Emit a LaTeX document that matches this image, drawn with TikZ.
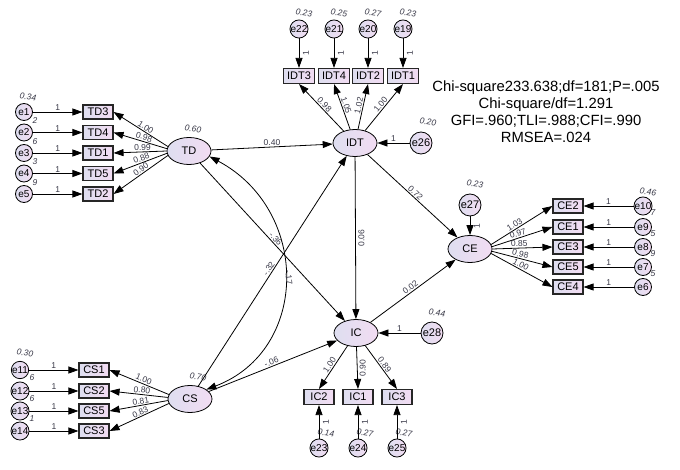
\documentclass[tikz,border=0pt]{standalone}
\usepackage{fontspec}
\setmainfont{Liberation Sans}
\usetikzlibrary{arrows.meta,shapes.geometric}
\definecolor{fillA}{RGB}{222,222,240}
\definecolor{fillB}{RGB}{242,220,242}
\definecolor{lblc}{RGB}{55,55,70}
\begin{document}
\begin{tikzpicture}[x=1pt,y=-1pt,
 lat/.style={ellipse, draw=black, line width=0.8pt, left color=fillA, right color=fillB, minimum width=44pt, minimum height=27pt, inner sep=0pt, font=\fontsize{11}{11}\selectfont},
 obs/.style={rectangle, draw=black!85, line width=1.1pt, left color=fillA, right color=fillB, minimum width=30pt, minimum height=14pt, inner sep=0pt, font=\fontsize{11}{11}\selectfont},
 err/.style={circle, draw=black, line width=0.8pt, left color=fillA, right color=fillB, minimum size=17pt, inner sep=0pt, font=\fontsize{10}{10}\selectfont},
 errb/.style={err, minimum size=22pt, font=\fontsize{11}{11}\selectfont},
 arr/.style={line width=0.8pt, -{Triangle[length=10pt,width=7pt]}},
 dbl/.style={line width=0.8pt, {Triangle[length=10pt,width=7pt]}-{Triangle[length=10pt,width=7pt]}},
 lbl/.style={font=\fontsize{8.5}{8.5}\selectfont, text=lblc, inner sep=1pt},
 varlbl/.style={lbl, font=\fontsize{8.5}{8.5}\selectfont\itshape, rotate=-8},
 fraglbl/.style={lbl, font=\fontsize{8.5}{8.5}\selectfont\itshape},
 fittext/.style={font=\fontsize{14.8}{17}\selectfont, align=center, inner sep=0pt}
]
\useasboundingbox (0,0) rectangle (680,470);

% ---------- latent variables
\node[lat] (TD) at (189,151) {TD};
\node[lat] (IDT) at (355,143) {IDT};
\node[lat] (IC) at (356,333) {IC};
\node[lat] (CE) at (470,249) {CE};
\node[lat] (CS) at (190,399) {CS};

% ---------- observed variables
\foreach \n/\y in {TD3/112,TD4/132.5,TD1/153,TD5/173.5,TD2/194}
  \node[obs] (\n) at (98,\y) {\n};
\foreach \n/\y in {CS1/370,CS2/391,CS5/411,CS3/431}
  \node[obs] (\n) at (94,\y) {\n};
\foreach \n/\y in {CE2/206,CE1/227,CE3/247,CE5/267,CE4/287}
  \node[obs] (\n) at (568,\y) {\n};
\foreach \n/\x in {IDT3/299,IDT4/334,IDT2/368,IDT1/403}
  \node[obs, minimum width=31pt, minimum height=15pt] (\n) at (\x,76) {\n};
\foreach \n/\x in {IC2/319,IC1/358,IC3/397}
  \node[obs, minimum height=15pt] (\n) at (\x,397) {\n};

% ---------- variance labels (drawn before the error circles)
\node[varlbl] (v1) at (28,97) {0.34};
\node[fraglbl] (f2) at (35,121) {2};
\node[fraglbl] (f3) at (35,141.5) {6};
\node[fraglbl] (f4) at (35,162) {3};
\node[fraglbl] (f5) at (35,182.5) {9};
\node[varlbl] (v11) at (25,353) {0.30};
\node[fraglbl] (f12) at (32,378) {6};
\node[fraglbl] (f13) at (32,399) {6};
\node[fraglbl] (f14) at (32,419) {1};
\node[varlbl] (v10) at (648,192) {0.46};
\node[fraglbl] (f9) at (653,213) {7};
\node[fraglbl] (f8) at (653,234) {5};
\node[fraglbl] (f7) at (653,254) {9};
\node[fraglbl] (f6) at (653,274) {5};
\node[varlbl] (v22) at (304,13) {0.23};
\node[varlbl] (v21) at (339,13) {0.25};
\node[varlbl] (v20) at (373,13) {0.27};
\node[varlbl] (v19) at (408,13) {0.23};
\node[varlbl] (v23) at (326,433) {0.14};
\node[varlbl] (v24) at (365,433) {0.27};
\node[varlbl] (v25) at (404,433) {0.27};
\node[varlbl] (v26) at (428,122) {0.20};
\node[varlbl] (v27) at (475,184) {0.23};
\node[varlbl] (v28) at (437,313) {0.44};
\node[varlbl] (vTD) at (193,129) {0.60};
\node[varlbl] (vCS) at (198,377) {0.70};

% ---------- error circles
\foreach \i/\y in {1/112,2/132.5,3/153,4/173.5,5/194}
  \node[err] (e\i) at (24,\y) {e\i};
\foreach \i/\y in {11/370,12/391,13/411,14/431}
  \node[err] (e\i) at (20,\y) {e\i};
\foreach \i/\y in {10/206,9/227,8/247,7/267,6/287}
  \node[err] (e\i) at (643,\y) {e\i};
\foreach \i/\x in {22/299,21/334,20/368,19/403}
  \node[err] (e\i) at (\x,29) {e\i};
\foreach \i/\x in {23/319,24/358,25/397}
  \node[err] (e\i) at (\x,448) {e\i};
\node[errb] (e26) at (421,143) {e26};
\node[errb] (e27) at (470,205) {e27};
\node[errb] (e28) at (432,333) {e28};

% ---------- error paths
\foreach \i/\n in {1/TD3,2/TD4,3/TD1,4/TD5,5/TD2,11/CS1,12/CS2,13/CS5,14/CS3,10/CE2,9/CE1,8/CE3,7/CE5,6/CE4}
  \draw[arr] (e\i) -- node[lbl,above]{1} (\n);
\foreach \i/\n in {22/IDT3,21/IDT4,20/IDT2,19/IDT1,23/IC2,24/IC1,25/IC3}
  \draw[arr] (e\i) -- node[lbl,pos=0.5,rotate=90,anchor=north,inner ysep=3.5pt]{1} (\n);
\draw[arr] (e27) -- node[lbl,pos=0.5,rotate=90,anchor=north,inner ysep=3.5pt]{1} (CE);
\draw[arr] (e26) -- node[lbl,above]{1} (IDT);
\draw[arr] (e28) -- node[lbl,above]{1} (IC);

% ---------- loadings
\draw[arr] (TD.168) -- node[lbl,sloped,above,pos=0.45]{1.00} (TD3.east);
\draw[arr] (TD.174) -- node[lbl,sloped,above,pos=0.45]{0.98} (TD4.east);
\draw[arr] (TD.180) -- node[lbl,sloped,above,pos=0.45]{0.99} (TD1.east);
\draw[arr] (TD.186) -- node[lbl,sloped,above,pos=0.45]{0.88} (TD5.east);
\draw[arr] (TD.192) -- node[lbl,sloped,above,pos=0.45]{0.90} (TD2.east);

\draw[arr] (CS.168) -- node[lbl,sloped,above,pos=0.45]{1.00} (CS1.east);
\draw[arr] (CS.176) -- node[lbl,sloped,above,pos=0.45]{0.80} (CS2.east);
\draw[arr] (CS.184) -- node[lbl,sloped,above,pos=0.45]{0.81} (CS5.east);
\draw[arr] (CS.192) -- node[lbl,sloped,above,pos=0.45]{0.83} (CS3.east);

\draw[arr] (CE.12) -- node[lbl,sloped,above,pos=0.42]{1.03} (CE2.west);
\draw[arr] (CE.6) -- node[lbl,sloped,above,pos=0.45]{0.97} (CE1.west);
\draw[arr] (CE.0) -- node[lbl,sloped,above,pos=0.45]{0.85} (CE3.west);
\draw[arr] (CE.-6) -- node[lbl,sloped,above,pos=0.45]{0.98} (CE5.west);
\draw[arr] (CE.-12) -- node[lbl,sloped,above,pos=0.45]{1.00} (CE4.west);

\draw[arr] (IDT) -- node[lbl,sloped,above,pos=0.5]{0.98} (IDT3.south);
\draw[arr] (IDT) -- node[lbl,sloped,above,pos=0.5]{1.05} (IDT4.south);
\draw[arr] (IDT) -- node[lbl,sloped,above,pos=0.5]{1.02} (IDT2.south);
\draw[arr] (IDT) -- node[lbl,sloped,above,pos=0.5]{1.00} (IDT1.south);

\draw[arr] (IC) -- node[lbl,sloped,above,pos=0.5]{1.00} (IC2.north);
\draw[arr] (IC) -- node[lbl,pos=0.5,rotate=90,anchor=north,inner ysep=2pt]{0.90} (IC1.north);
\draw[arr] (IC) -- node[lbl,sloped,above,pos=0.5]{0.89} (IC3.north);

% ---------- structural paths
\draw[arr] (TD) -- node[lbl,above,pos=0.5]{0.40} (IDT);
\draw[arr] (TD) -- node[lbl,sloped,above,pos=0.5]{-.36} (IC);
\draw[arr] (CS) -- node[lbl,sloped,above,pos=0.5]{-.32} (IDT);
\draw[arr] (CS) -- node[lbl,sloped,above,pos=0.5]{-.06} (IC);
\draw[arr] (IDT) -- node[lbl,pos=0.5,rotate=90,anchor=north,inner ysep=2.5pt]{0.06} (IC);
\draw[arr] (IDT) -- node[lbl,sloped,above,pos=0.5]{0.72} (CE);
\draw[arr] (IC) -- node[lbl,sloped,above,pos=0.5]{0.02} (CE);
\draw[dbl] (TD.-15) .. controls (310,210) and (310,350) .. node[lbl,pos=0.5,rotate=-82,anchor=south]{-.17} (CS.30);

% ---------- fit indices
\node[fittext] (fit) at (546,111.5) {Chi-square233.638;df=181;P=.005\\Chi-square/df=1.291\\GFI=.960;TLI=.988;CFI=.990\\RMSEA=.024};
\end{tikzpicture}
\end{document}
